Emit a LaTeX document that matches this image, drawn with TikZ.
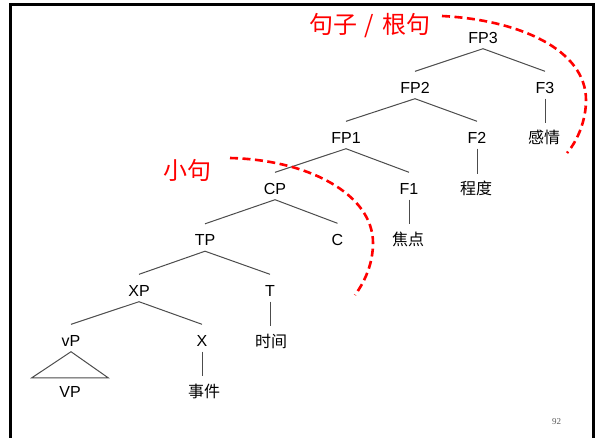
\documentclass[tikz,border=0pt]{standalone}
\usepackage{fontspec}
\setmainfont{Liberation Sans}
\newfontfamily\cjk{Noto Sans CJK SC}
\newfontfamily\pgnum{Liberation Serif}
\begin{document}
\begin{tikzpicture}[x=1pt,y=-1pt,
  lab/.style={font=\fontsize{16}{16}\selectfont, inner sep=0pt, anchor=base, text height=21.5pt, text depth=5.5pt},
  cj/.style={font=\cjk\fontsize{16}{16}\selectfont, inner sep=0pt, anchor=base, text height=20.5pt, text depth=2pt},
  br/.style={draw=black!70, line width=1pt},
  redarc/.style={draw=red, line width=2.6pt, dash pattern=on 8pt off 4.5pt},
  redlab/.style={font=\cjk\fontsize{24}{24}\selectfont, text=red, inner sep=0pt},
  frame/.style={draw=black, line width=3.3pt, line join=miter}]
\useasboundingbox (0,0) rectangle (599,437);
\fill[white] (0,0) rectangle (599,437);
\draw[frame] (10.7,440) -- (10.7,4.2) -- (593.3,4.2) -- (593.3,440);

% tree nodes
\node[lab] (fp3) at (483,43) {FP3};
\node[lab] (fp2) at (415,93) {FP2};
\node[lab] (f3) at (545,93) {F3};
\node[cj] (ganqing) at (544,143.5) {感情};
\node[lab] (fp1) at (346,143) {FP1};
\node[lab] (f2) at (477,143) {F2};
\node[cj] (chengdu) at (476,194.5) {程度};
\node[lab] (cp) at (275,194) {CP};
\node[lab] (f1) at (409,194) {F1};
\node[cj] (jiaodian) at (408,245) {焦点};
\node[lab] (tp) at (205,245.5) {TP};
\node[lab] (c) at (337.5,245) {C};
\node[lab] (xp) at (139,296) {XP};
\node[lab] (t) at (270,296) {T};
\node[cj] (shijian) at (271,347) {时间};
\node[lab] (vp) at (71,346) {vP};
\node[lab] (x) at (202,346) {X};
\node[cj] (shijian2) at (204,397) {事件};
\node[lab, text height=19pt, minimum width=76pt] (bigvp) at (70,397) {VP};

% branches
\draw[br] (fp3.south) -- (fp2.north);
\draw[br] (fp3.south) -- (f3.north);
\draw[br] (f3.south) -- (f3.south |- ganqing.north);
\draw[br] (fp2.south) -- (fp1.north);
\draw[br] (fp2.south) -- (f2.north);
\draw[br] (f2.south) -- (f2.south |- chengdu.north);
\draw[br] (fp1.south) -- (cp.north);
\draw[br] (fp1.south) -- (f1.north);
\draw[br] (f1.south) -- (f1.south |- jiaodian.north);
\draw[br] (cp.south) -- (tp.north);
\draw[br] (cp.south) -- (c.north);
\draw[br] (tp.south) -- (xp.north);
\draw[br] (tp.south) -- (t.north);
\draw[br] (t.south) -- (t.south |- shijian.north);
\draw[br] (xp.south) -- (vp.north);
\draw[br] (xp.south) -- (x.north);
\draw[br] (x.south) -- (x.south |- shijian2.north);
\draw[br] (vp.south) -- (bigvp.north west) -- (bigvp.north east) -- cycle;

% red labels and arcs
\node[redlab] (xiaoju) at (187.5,170) {小句};
\node[redlab] (genju) at (370,26) {句子\hspace{7pt}/\hspace{9pt}根句};
\draw[redarc] (230,158) .. controls (310,160) and (373,195) .. (373,243) .. controls (373,262) and (366,280) .. (355,295);
\draw[redarc] (442,16) .. controls (520,20) and (586,50) .. (586,100) .. controls (586,120) and (578,140) .. (567,153);

% page number
\node[font=\pgnum\fontsize{9}{9}\selectfont, text=black!65, inner sep=0pt] (pgno) at (556.5,422) {92};
\end{tikzpicture}
\end{document}
